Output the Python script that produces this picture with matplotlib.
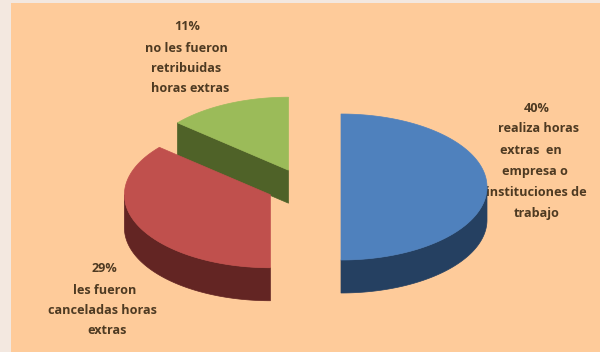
import matplotlib.pyplot as plt
import numpy as np
from matplotlib.patches import Polygon, Rectangle

# slices, drawn back to front
shares = [11, 29, 40]
top_colors = ["#9BBB59", "#C0504D", "#4F81BD"]
side_colors = ["#4F6228", "#632523", "#254061"]

label_lines = [
    ["11%", "no les fueron", "retribuidas", "horas extras"],
    ["29%", "les fueron", "canceladas horas", "extras"],
    ["40%", "realiza horas", "extras  en", "empresa o", "instituciones de", "trabajo"],
]
label_x = [
    [187, 186, 186, 190],
    [104, 105, 102, 107],
    [537, 538, 531, 535, 536, 537],
]
label_y = [
    [27, 48, 68, 89],
    [269, 290, 311, 331],
    [109, 129, 151, 172, 193, 213],
]

CX, CY = 304, 187
RX, RY = 146, 73
DEPTH = 33
EXPLODE = 37


def slice_angles():
    # clockwise from 12 o'clock, blue starts at the top
    total = sum(shares)
    spans = {i: shares[i] / total * 360 for i in range(3)}
    blue = (0, spans[2])
    red = (blue[1], blue[1] + spans[1])
    green = (red[1], red[1] + spans[0])
    return [green, red, blue]


def to_xy(cx, cy, deg):
    a = np.radians(deg)
    return cx + RX * np.sin(a), cy - RY * np.cos(a)


def draw_slice(ax, start, end, top, side):
    mid = np.radians((start + end) / 2)
    cx = CX + EXPLODE * np.sin(mid)
    cy = CY - EXPLODE * np.cos(mid) * RY / RX

    # outer wall, only the front half of the rim is visible
    lo, hi = max(start, 90), min(end, 270)
    if hi > lo:
        t = np.linspace(lo, hi, 80)
        x, y = to_xy(cx, cy, t)
        pts = np.r_[np.c_[x, y], np.c_[x, y + DEPTH][::-1]]
        ax.add_patch(Polygon(pts, fc=side, ec=side, lw=0.5, zorder=3))

    # cut face that looks towards the viewer
    if start > 180:
        x, y = to_xy(cx, cy, start)
        pts = [(cx, cy), (x, y), (x, y + DEPTH), (cx, cy + DEPTH)]
        ax.add_patch(Polygon(pts, fc=side, ec=side, lw=0.5, zorder=3))

    t = np.linspace(start, end, 120)
    x, y = to_xy(cx, cy, t)
    pts = np.r_[[[cx, cy]], np.c_[x, y]]
    ax.add_patch(Polygon(pts, fc=top, ec=top, lw=0.5, zorder=3))


def main():
    fig = plt.figure(figsize=(6, 3.52), dpi=100, facecolor="#F3E8E0")
    ax = fig.add_axes([0, 0, 1, 1])
    ax.set_xlim(0, 600)
    ax.set_ylim(352, 0)
    ax.axis("off")

    ax.add_patch(Rectangle((11, 3), 589, 349, fc="#FECB9A", ec="none", zorder=0))

    for (start, end), top, side in zip(slice_angles(), top_colors, side_colors):
        draw_slice(ax, start, end, top, side)

    # labels sit under the pie, the blue rim clips the start of "instituciones"
    for lines, xs, ys in zip(label_lines, label_x, label_y):
        for line, x, y in zip(lines, xs, ys):
            ax.text(x, y, line, ha="center", va="center", fontsize=9.1,
                    family="Open Sans", fontweight="bold", color="#4E3A22", zorder=2)

    fig.savefig("out.png", dpi=100)


if __name__ == "__main__":
    main()
